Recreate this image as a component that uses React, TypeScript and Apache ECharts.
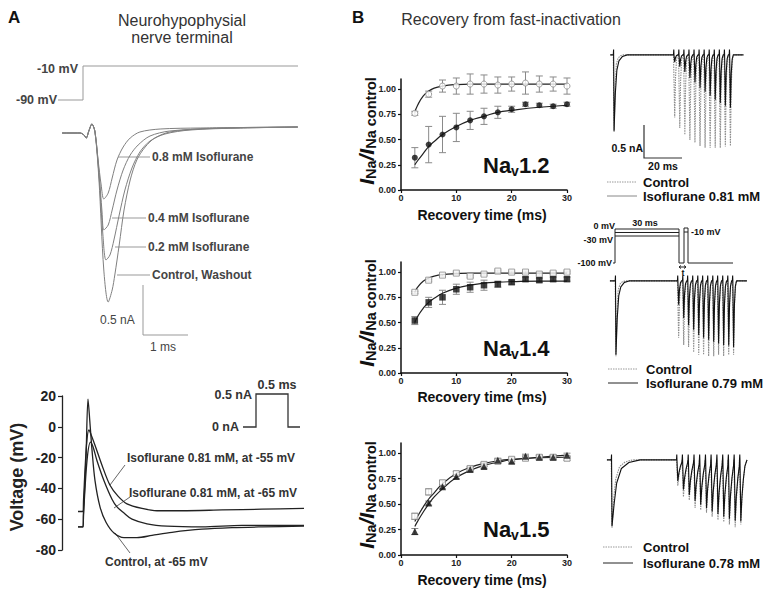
import React, { useEffect, useRef } from "react";
import * as echarts from "echarts";

const FONT = '"Liberation Sans", Arial, Helvetica, sans-serif';

// ---------- Panel A (top): Na+ current traces, [time ms, current nA]
const aArtifact = [[0, -0.05], [0.41, -0.05], [0.5, -0.07], [0.55, -0.1], [0.61, -0.03], [0.68, 0.04], [0.75, -0.04]];
const aControl = [[0.84, -0.52], [0.95, -1.42], [1.05, -1.74], [1.14, -1.62], [1.2, -1.47], [1.3, -1.17], [1.41, -0.82], [1.55, -0.52], [1.7, -0.32], [1.89, -0.19], [2.11, -0.1], [2.45, -0.04], [3.14, -0.01], [4.05, 0], [5.36, 0.01]];
const aIso02 = [[0.84, -0.47], [0.93, -1.07], [1.0, -1.32], [1.09, -1.27], [1.18, -1.12], [1.3, -0.87], [1.43, -0.62], [1.59, -0.4], [1.77, -0.24], [2.0, -0.13], [2.34, -0.06], [2.91, -0.02], [4.05, 0], [5.36, 0.01]];
const aIso04 = [[0.84, -0.44], [0.91, -0.84], [0.95, -1.02], [1.05, -0.97], [1.14, -0.82], [1.25, -0.62], [1.39, -0.42], [1.55, -0.27], [1.73, -0.17], [2.0, -0.08], [2.45, -0.03], [3.59, 0], [5.36, 0.01]];
const aIso08 = [[0.82, -0.32], [0.89, -0.57], [0.95, -0.71], [1.05, -0.65], [1.14, -0.5], [1.25, -0.32], [1.39, -0.19], [1.55, -0.1], [1.77, -0.04], [2.23, -0.01], [3.14, 0], [5.36, 0.01]];

// ---------- Panel A (bottom): action potentials, [time ms, mV]
const vTicks = [-80, -60, -40, -20, 0, 20];
const vControl = [[1.6, -65], [2.1, -65], [2.15, -56], [2.4, -20], [2.6, 18], [2.8, 2], [3.0, -15], [3.3, -35], [3.8, -52], [4.4, -62], [5.2, -69], [6.2, -72], [7.5, -72], [9, -70.5], [11, -68.5], [14, -66.5], [17, -65.5], [20, -65], [24.2, -64.5]];
const vIso65 = [[1.6, -65], [2.1, -65], [2.15, -57], [2.5, -22], [2.85, -10], [3.1, -13], [3.5, -22], [4.2, -35], [5.0, -47], [5.5, -52], [6.2, -56], [7, -60], [8.5, -63], [10.5, -64.5], [14, -65], [18, -64], [24.2, -64]];
const vIso55 = [[1.6, -55], [2.1, -55], [2.15, -48], [2.45, -12], [2.7, -2], [2.9, -5], [3.3, -12], [4, -25], [4.8, -38], [5.6, -45], [6.5, -50], [8, -53], [9.5, -54.5], [12, -54.5], [16, -54], [20, -53.5], [24.2, -53]];

// ---------- Panel B: recovery from fast inactivation
const recTimes = [2.5, 5, 7.5, 10, 12.5, 15, 17.5, 20, 22.5, 25, 27.5, 30];
const yTicks = [0, 0.25, 0.5, 0.75, 1.0];
const xTicks = [0, 10, 20, 30];

const nav12Ctrl = [0.76, 0.95, 1.03, 1.03, 1.05, 1.05, 1.04, 1.05, 1.06, 1.05, 1.05, 1.03];
const nav12CtrlErr = [0.02, 0.03, 0.06, 0.08, 0.1, 0.09, 0.08, 0.07, 0.11, 0.08, 0.07, 0.08];
const nav12Iso = [0.32, 0.45, 0.55, 0.62, 0.69, 0.73, 0.77, 0.8, 0.85, 0.84, 0.83, 0.85];
const nav12IsoErr = [0.1, 0.18, 0.18, 0.14, 0.09, 0.08, 0.06, 0.03, 0.02, 0.02, 0.02, 0.02];

const nav14Ctrl = [0.8, 0.92, 0.97, 0.99, 0.96, 0.98, 1.01, 1.0, 1.0, 0.98, 0.99, 1.0];
const nav14CtrlErr = [0.01, 0.01, 0.01, 0.01, 0.01, 0.01, 0.01, 0.01, 0.01, 0.01, 0.01, 0.01];
const nav14Iso = [0.52, 0.7, 0.75, 0.83, 0.85, 0.87, 0.88, 0.9, 0.93, 0.92, 0.93, 0.93];
const nav14IsoErr = [0.04, 0.05, 0.07, 0.05, 0.05, 0.05, 0.03, 0.02, 0.02, 0.02, 0.02, 0.02];

const nav15Ctrl = [0.38, 0.62, 0.71, 0.8, 0.85, 0.89, 0.92, 0.94, 0.95, 0.96, 0.96, 0.95];
const nav15CtrlErr = [0.03, 0.03, 0.02, 0.02, 0.02, 0.02, 0.02, 0.02, 0.02, 0.02, 0.02, 0.02];
const nav15Iso = [0.23, 0.51, 0.67, 0.77, 0.84, 0.87, 0.93, 0.92, 0.97, 0.96, 0.96, 0.98];
const nav15IsoErr = [0.03, 0.02, 0.02, 0.02, 0.02, 0.02, 0.02, 0.02, 0.02, 0.02, 0.02, 0.02];

// fitted curves
const fitTimes = [2.5, 3, 4, 5, 6, 7.5, 10, 12.5, 15, 17.5, 20, 25, 30];
const nav12CtrlFit = [0.77, 0.84, 0.93, 0.98, 1.01, 1.03, 1.045, 1.05, 1.05, 1.05, 1.05, 1.05, 1.05];
const nav12IsoFit = [0.25, 0.29, 0.36, 0.43, 0.48, 0.55, 0.63, 0.69, 0.73, 0.77, 0.79, 0.82, 0.84];
const nav14CtrlFit = [0.8, 0.85, 0.91, 0.94, 0.96, 0.975, 0.985, 0.99, 0.99, 0.99, 0.99, 0.99, 0.99];
const nav14IsoFit = [0.5, 0.56, 0.64, 0.7, 0.74, 0.79, 0.84, 0.87, 0.89, 0.9, 0.905, 0.91, 0.91];
const nav15CtrlFit = [0.33, 0.38, 0.47, 0.55, 0.61, 0.7, 0.8, 0.86, 0.9, 0.925, 0.94, 0.955, 0.96];
const nav15IsoFit = [0.28, 0.33, 0.42, 0.5, 0.57, 0.65, 0.76, 0.83, 0.88, 0.91, 0.935, 0.96, 0.98];

// ---------- Panel B right: paired-pulse current traces (ms, nA)
const nav12Tests = [39.5, 42.2, 44.9, 47.6, 50.3, 53.0, 55.7, 58.4, 61.1, 63.8, 66.5, 69.2];
const nav12CtrlPk = [-0.95, -1.11, -1.21, -1.29, -1.33, -1.38, -1.41, -1.41, -1.41, -1.41, -1.39, -1.38];
const nav12IsoPk = [-0.11, -0.18, -0.26, -0.35, -0.42, -0.5, -0.56, -0.62, -0.68, -0.73, -0.77, -0.8];
const nav12Pre = { t: 7.5, ctrl: -1.17, iso: -1.15, span: [5.5, 76.5] };

const nav14Tests = [41.6, 44.3, 46.9, 49.6, 52.3, 54.9, 57.6, 60.3, 62.9, 65.6, 68.3, 70.9];
const nav14CtrlPk = [-0.86, -0.97, -1.0, -1.08, -1.12, -1.12, -1.14, -1.14, -1.12, -1.14, -1.12, -1.12];
const nav14IsoPk = [-0.36, -0.56, -0.67, -0.74, -0.82, -0.86, -0.89, -0.92, -0.95, -0.97, -0.98, -1.0];
const nav14Pre = { t: 8.5, ctrl: -1.14, iso: -1.12, span: [5.3, 78.4] };

const nav15Tests = [41.1, 44.1, 47.2, 50.3, 53.3, 56.4, 59.4, 62.5, 65.6, 68.6, 71.7, 74.7];
const nav15CtrlPk = [-0.39, -0.56, -0.61, -0.73, -0.76, -0.8, -0.86, -0.91, -0.94, -0.98, -1.02, -0.98];
const nav15IsoPk = [-0.32, -0.45, -0.53, -0.62, -0.68, -0.73, -0.78, -0.82, -0.86, -0.89, -0.92, -0.93];
const nav15Pre = { t: 6.4, ctrl: -1.03, iso: -1.0, span: [3.7, 78.4] };

// spike waveform templates: [dt, fraction of peak]
const fastSpike = [[0, 0], [0.35, 1], [0.8, 0.35], [1.3, 0.08], [1.9, 0]];
const slowSpike = [[0, 0], [0.4, 1], [1.0, 0.6], [1.8, 0.3], [2.6, 0.1]];
const fastTailCtrl = [[0.6, 0.4], [1.2, 0.12], [2.2, 0.04], [3.5, 0.01], [5, 0]];
const fastTailIso = [[0.7, 0.5], [1.5, 0.2], [2.6, 0.08], [4.5, 0.02], [7, 0]];
const slowTailCtrl = [[1, 0.55], [2, 0.28], [4, 0.1], [7, 0.03], [11, 0]];
const slowTailIso = [[1.2, 0.65], [2.5, 0.35], [5, 0.13], [9, 0.04], [15, 0]];

function buildTrace(span: number[], preT: number, prePk: number, preTail: number[][], tests: number[], peaks: number[], shape: number[][], art: number) {
  const pts: number[][] = [[span[0], 0], [preT - 0.4, 0]];
  if (art) pts.push([preT - 0.25, art]);
  pts.push([preT, prePk]);
  preTail.forEach(([dt, f]) => pts.push([preT + dt, prePk * f]));
  tests.forEach((t, i) => {
    pts.push([t - 0.3, 0]);
    if (art) pts.push([t - 0.15, art], [t - 0.05, 0]);
    shape.forEach(([dt, f]) => pts.push([t + dt, peaks[i] * f]));
  });
  pts.push([span[1], 0]);
  return pts;
}

function pair(xs: number[], ys: number[]) {
  return xs.map((x, i) => [x, ys[i]]);
}
function errData(xs: number[], ys: number[], es: number[]) {
  return xs.map((x, i) => [x, ys[i] - es[i], ys[i] + es[i]]);
}

const errRender = (params: any, api: any) => {
  const x = api.value(0);
  const a = api.coord([x, api.value(1)]);
  const b = api.coord([x, api.value(2)]);
  const w = 3.5;
  const st = { stroke: "#8a8a8a", lineWidth: 1 };
  return {
    type: "group",
    children: [
      { type: "line", shape: { x1: a[0], y1: a[1], x2: b[0], y2: b[1] }, style: st },
      { type: "line", shape: { x1: a[0] - w, y1: a[1], x2: a[0] + w, y2: a[1] }, style: st },
      { type: "line", shape: { x1: b[0] - w, y1: b[1], x2: b[0] + w, y2: b[1] }, style: st },
    ],
  };
};

function T(text: string, x: number, y: number, fontSize: number, o: any = {}) {
  return {
    type: "text",
    x,
    y,
    rotation: o.rot || 0,
    silent: true,
    style: {
      text,
      fontSize,
      fontWeight: o.bold ? "bold" : "normal",
      fontFamily: FONT,
      fill: o.fill || "#222",
      align: o.align || "left",
      verticalAlign: "middle",
    },
  };
}
function L(x1: number, y1: number, x2: number, y2: number, stroke = "#888", lineWidth = 1, lineDash: any = null) {
  return { type: "line", silent: true, shape: { x1, y1, x2, y2 }, style: { stroke, lineWidth, lineDash } };
}
function P(points: number[][], stroke = "#888", lineWidth = 1) {
  return { type: "polyline", silent: true, shape: { points }, style: { stroke, lineWidth, fill: null } };
}
function yName(x: number, y: number) {
  return {
    type: "text",
    x,
    y,
    rotation: Math.PI / 2,
    silent: true,
    style: {
      text: "{i|I}{s|Na}{i|/}{i|I}{s|Na control}",
      align: "center",
      verticalAlign: "middle",
      rich: {
        i: { fontSize: 21, fontWeight: "bold", fontStyle: "italic", fontFamily: FONT, fill: "#111", lineHeight: 24 },
        s: { fontSize: 14.5, fontWeight: "bold", fontFamily: FONT, fill: "#111", lineHeight: 14, verticalAlign: "bottom" },
      },
    },
  };
}
function navLabel(x: number, y: number, ver: string) {
  return {
    type: "text",
    x,
    y,
    silent: true,
    style: {
      text: `{a|Na}{b|v}{a|${ver}}`,
      align: "left",
      verticalAlign: "middle",
      rich: {
        a: { fontSize: 22, fontWeight: "bold", fontFamily: FONT, fill: "#111", lineHeight: 26 },
        b: { fontSize: 14, fontWeight: "bold", fontFamily: FONT, fill: "#111", lineHeight: 14, verticalAlign: "bottom" },
      },
    },
  };
}

function buildOption() {
  const hiddenX = (gi: number, min: number, max: number) => ({ gridIndex: gi, type: "value", min, max, show: false });
  const hiddenY = (gi: number, min: number, max: number) => ({ gridIndex: gi, type: "value", min, max, show: false });
  const axLine = { color: "#111", width: 1.5 };
  const bX = (gi: number) => ({
    gridIndex: gi, type: "value", min: 0, max: 30, interval: 10,
    axisLine: { show: true, onZero: false, lineStyle: axLine },
    axisTick: { show: true, length: 3, customValues: xTicks, lineStyle: { color: "#111", width: 1.2 } },
    axisLabel: { customValues: xTicks, fontSize: 9, fontWeight: "bold", color: "#222", margin: 3, fontFamily: FONT },
    splitLine: { show: false },
  });
  const bY = (gi: number) => ({
    gridIndex: gi, type: "value", min: 0, max: 1.1,
    axisLine: { show: true, onZero: false, lineStyle: axLine },
    axisTick: { show: true, length: 3, customValues: yTicks, lineStyle: { color: "#111", width: 1.2 } },
    axisLabel: { customValues: yTicks, formatter: (v: number) => v.toFixed(2), fontSize: 9, fontWeight: "bold", color: "#222", margin: 5, fontFamily: FONT },
    splitLine: { show: false },
  });

  const line = (ai: number, data: any, color: string, width: number, extra: any = {}) => ({
    type: "line", xAxisIndex: ai, yAxisIndex: ai, data, symbol: "none", showSymbol: false,
    lineStyle: { color, width, ...(extra.lineStyle || {}) }, silent: true, z: 3,
    smooth: extra.smooth || false, clip: false,
  });
  const scatter = (ai: number, data: any, symbol: string, size: number, filled: boolean) => ({
    type: "scatter", xAxisIndex: ai, yAxisIndex: ai, data, symbol, symbolSize: size, silent: true, z: 5,
    itemStyle: filled ? { color: "#111" } : { color: "#fff", borderColor: "#888", borderWidth: 1 },
  });
  const errs = (ai: number, data: any) => ({
    type: "custom", xAxisIndex: ai, yAxisIndex: ai, data, renderItem: errRender, silent: true, z: 2,
    encode: { x: 0, y: [1, 2] }, clip: false,
  });

  const A_GRAY = "#808080";
  const DOT = { lineStyle: { type: [1.5, 1] } };
  const series: any[] = [
    line(0, [...aArtifact, ...aControl], A_GRAY, 1, { smooth: 0.3 }),
    line(0, [...aArtifact, ...aIso02], A_GRAY, 1, { smooth: 0.3 }),
    line(0, [...aArtifact, ...aIso04], A_GRAY, 1, { smooth: 0.3 }),
    line(0, [...aArtifact, ...aIso08], A_GRAY, 1, { smooth: 0.3 }),

    line(1, vControl, "#222", 1.3, { smooth: 0.3 }),
    line(1, vIso65, "#222", 1.3, { smooth: 0.3 }),
    line(1, vIso55, "#222", 1.3, { smooth: 0.3 }),

    errs(2, errData(recTimes, nav12Ctrl, nav12CtrlErr)),
    errs(2, errData(recTimes, nav12Iso, nav12IsoErr)),
    line(2, pair(fitTimes, nav12CtrlFit), "#222", 1.2, { smooth: true }),
    line(2, pair(fitTimes, nav12IsoFit), "#222", 1.2, { smooth: true }),
    scatter(2, pair(recTimes, nav12Ctrl), "circle", 6, false),
    scatter(2, pair(recTimes, nav12Iso), "circle", 6, true),

    errs(3, errData(recTimes, nav14Ctrl, nav14CtrlErr)),
    errs(3, errData(recTimes, nav14Iso, nav14IsoErr)),
    line(3, pair(fitTimes, nav14CtrlFit), "#222", 1.2, { smooth: true }),
    line(3, pair(fitTimes, nav14IsoFit), "#222", 1.2, { smooth: true }),
    scatter(3, pair(recTimes, nav14Ctrl), "rect", 6, false),
    scatter(3, pair(recTimes, nav14Iso), "rect", 6.5, true),

    errs(4, errData(recTimes, nav15Ctrl, nav15CtrlErr)),
    errs(4, errData(recTimes, nav15Iso, nav15IsoErr)),
    line(4, pair(fitTimes, nav15CtrlFit), "#222", 1.2, { smooth: true }),
    line(4, pair(fitTimes, nav15IsoFit), "#222", 1.2, { smooth: true }),
    scatter(4, pair(recTimes, nav15Ctrl), "rect", 6, false),
    scatter(4, pair(recTimes, nav15Iso), "triangle", 7, true),

    line(5, buildTrace(nav12Pre.span, nav12Pre.t, nav12Pre.ctrl, fastTailCtrl, nav12Tests, nav12CtrlPk, fastSpike, 0), "#8c8c8c", 1.1, DOT),
    line(5, buildTrace(nav12Pre.span, nav12Pre.t, nav12Pre.iso, fastTailIso, nav12Tests, nav12IsoPk, fastSpike, 0.08), "#111", 1.1),

    line(6, buildTrace(nav14Pre.span, nav14Pre.t, nav14Pre.ctrl, fastTailCtrl, nav14Tests, nav14CtrlPk, fastSpike, 0), "#8c8c8c", 1.1, DOT),
    line(6, buildTrace(nav14Pre.span, nav14Pre.t, nav14Pre.iso, fastTailIso, nav14Tests, nav14IsoPk, fastSpike, 0.08), "#111", 1.1),

    line(7, buildTrace(nav15Pre.span, nav15Pre.t, nav15Pre.ctrl, slowTailCtrl, nav15Tests, nav15CtrlPk, slowSpike, 0), "#8c8c8c", 1.1, DOT),
    line(7, buildTrace(nav15Pre.span, nav15Pre.t, nav15Pre.iso, slowTailIso, nav15Tests, nav15IsoPk, slowSpike, 0.08), "#111", 1.1),
  ];

  const graphic: any[] = [
    T("A", 8, 17, 17, { bold: true, fill: "#111" }),
    T("B", 352, 17, 17, { bold: true, fill: "#111" }),
    T("Neurohypophysial", 182, 20, 16, { align: "center", fill: "#333" }),
    T("nerve terminal", 182, 37, 16, { align: "center", fill: "#333" }),
    T("Recovery from fast-inactivation", 511, 19, 16, { align: "center", fill: "#333" }),

    // voltage step protocol (A)
    P([[58, 100], [83, 100], [83, 66], [298, 66]], "#999", 1),
    T("-10 mV", 78, 69, 12.5, { bold: true, align: "right", fill: "#444" }),
    T("-90 mV", 57, 100, 12.5, { bold: true, align: "right", fill: "#444" }),

    // A top labels
    L(118, 157, 150, 157, "#999"), T("0.8 mM Isoflurane", 152, 157, 12, { bold: true, fill: "#444" }),
    L(112, 218, 146, 218, "#999"), T("0.4 mM Isoflurane", 148, 218, 12, { bold: true, fill: "#444" }),
    L(115, 247, 146, 247, "#999"), T("0.2 mM Isoflurane", 148, 247, 12, { bold: true, fill: "#444" }),
    L(117, 275, 150, 275, "#999"), T("Control, Washout", 152, 275, 12, { bold: true, fill: "#444" }),
    P([[143, 285], [143, 335], [188, 335]], "#999", 1),
    T("0.5 nA", 100, 320, 12, { fill: "#444" }),
    T("1 ms", 150, 347, 12, { fill: "#444" }),

    // A bottom
    T("Voltage (mV)", 17, 477, 18, { bold: true, align: "center", rot: Math.PI / 2, fill: "#222" }),
    L(110, 485, 125, 465, "#666"), T("Isoflurane 0.81 mM, at -55 mV", 127, 458, 12, { bold: true, fill: "#333" }),
    L(114, 508, 130, 497, "#666"), T("Isoflurane 0.81 mM, at -65 mV", 129, 493, 12, { bold: true, fill: "#333" }),
    L(115, 533, 130, 553, "#666"), T("Control, at -65 mV", 105, 562, 12, { bold: true, fill: "#333" }),
    P([[243, 427], [256, 427], [256, 394], [288, 394], [288, 427], [300, 427]], "#333", 1.3),
    T("0.5 nA", 252, 395, 12.5, { bold: true, align: "right", fill: "#333" }),
    T("0 nA", 239, 427, 12.5, { bold: true, align: "right", fill: "#333" }),
    T("0.5 ms", 277, 385, 12.5, { bold: true, align: "center", fill: "#333" }),

    // B plot names
    yName(366, 131), yName(366, 313), yName(366, 495),
    T("Recovery time (ms)", 482, 215, 14, { bold: true, align: "center", fill: "#111" }),
    T("Recovery time (ms)", 482, 397, 14, { bold: true, align: "center", fill: "#111" }),
    T("Recovery time (ms)", 482, 580, 14, { bold: true, align: "center", fill: "#111" }),
    navLabel(483, 165, "1.2"),
    navLabel(483, 348, "1.4"),
    navLabel(483, 529, "1.5"),

    // Nav1.2 traces: scale + legend
    P([[644, 125], [644, 158], [682, 158]], "#333", 1.2),
    T("0.5 nA", 643, 148, 10.5, { bold: true, align: "right", fill: "#111" }),
    T("20 ms", 663, 166, 10.5, { bold: true, align: "center", fill: "#111" }),
    L(607, 182, 637, 182, "#999", 1, [1.5, 1]), T("Control", 643, 182, 13, { bold: true, fill: "#111" }),
    L(607, 196, 637, 196, "#888", 1), T("Isoflurane 0.81 mM", 643, 196, 13, { bold: true, fill: "#111" }),

    // Nav1.4 protocol
    P([[613, 263], [615, 263], [615, 229], [679, 229], [679, 263], [684, 263], [684, 228], [688, 228], [688, 263], [733, 263]], "#222", 1),
    L(615, 232.5, 679, 232.5, "#222", 1), L(615, 236, 679, 236, "#222", 1),
    L(684, 232, 688, 232, "#222", 1),
    T("0 mV", 615, 226, 9, { bold: true, align: "right", fill: "#111" }),
    T("-30 mV", 613, 240, 9, { bold: true, align: "right", fill: "#111" }),
    T("-100 mV", 612, 263, 9, { bold: true, align: "right", fill: "#111" }),
    T("30 ms", 645, 223, 9, { bold: true, align: "center", fill: "#111" }),
    T("-10 mV", 691, 232, 9, { bold: true, fill: "#111" }),
    L(679, 267, 686, 267, "#222", 1),
    P([[681, 265.5], [679, 267], [681, 268.5]], "#222", 1),
    P([[684, 265.5], [686, 267], [684, 268.5]], "#222", 1),
    T("t", 683, 273, 9, { bold: true, align: "center", fill: "#111" }),
    L(608, 369, 638, 369, "#999", 1, [1.5, 1]), T("Control", 646, 369, 13, { bold: true, fill: "#111" }),
    L(608, 383, 638, 383, "#222", 1), T("Isoflurane 0.79 mM", 646, 383, 13, { bold: true, fill: "#111" }),

    // Nav1.5 legend
    L(603, 547, 633, 547, "#999", 1, [1.5, 1]), T("Control", 643, 547, 13, { bold: true, fill: "#111" }),
    L(603, 563, 633, 563, "#222", 1), T("Isoflurane 0.78 mM", 643, 563, 13, { bold: true, fill: "#111" }),
  ];

  return {
    animation: false,
    backgroundColor: "#fff",
    textStyle: { fontFamily: FONT },
    grid: [
      { left: 62, top: 120, width: 242, height: 220, outerBoundsMode: "none" },
      { left: 62, top: 396, width: 242, height: 154, outerBoundsMode: "none" },
      { left: 401, top: 79, width: 166, height: 111, outerBoundsMode: "none" },
      { left: 401, top: 262, width: 166, height: 111, outerBoundsMode: "none" },
      { left: 401, top: 443, width: 166, height: 112, outerBoundsMode: "none" },
      { left: 600, top: 45, width: 150, height: 120, outerBoundsMode: "none" },
      { left: 600, top: 271, width: 150, height: 100, outerBoundsMode: "none" },
      { left: 600, top: 450, width: 150, height: 100, outerBoundsMode: "none" },
    ],
    xAxis: [
      hiddenX(0, 0, 5.5),
      hiddenX(1, 0, 24.2),
      bX(2), bX(3), bX(4),
      hiddenX(5, 0, 80), hiddenX(6, 0, 80), hiddenX(7, 0, 80),
    ],
    yAxis: [
      hiddenY(0, -2.12, 0.08),
      {
        gridIndex: 1, type: "value", min: -80, max: 20, interval: 20,
        axisLine: { show: true, onZero: false, lineStyle: { color: "#222", width: 1.3 } },
        axisTick: { show: true, length: 4, customValues: vTicks, lineStyle: { color: "#222", width: 1.2 } },
        axisLabel: { customValues: vTicks, fontSize: 14, fontWeight: "bold", color: "#222", margin: 6, fontFamily: FONT },
        splitLine: { show: false },
      },
      bY(2), bY(3), bY(4),
      hiddenY(5, -1.67, 0.15), hiddenY(6, -1.365, 0.15), hiddenY(7, -1.365, 0.15),
    ],
    series,
    graphic,
  };
}

export default function App() {
  const ref = useRef<HTMLDivElement>(null);
  useEffect(() => {
    const chart = echarts.init(ref.current as HTMLDivElement, null, { renderer: "svg" });
    chart.setOption(buildOption() as any);
    return () => chart.dispose();
  }, []);
  return (
    <div
      ref={ref}
      style={{ position: "absolute", left: 0, top: 0, width: 768, height: 593, background: "#fff" }}
    />
  );
}
